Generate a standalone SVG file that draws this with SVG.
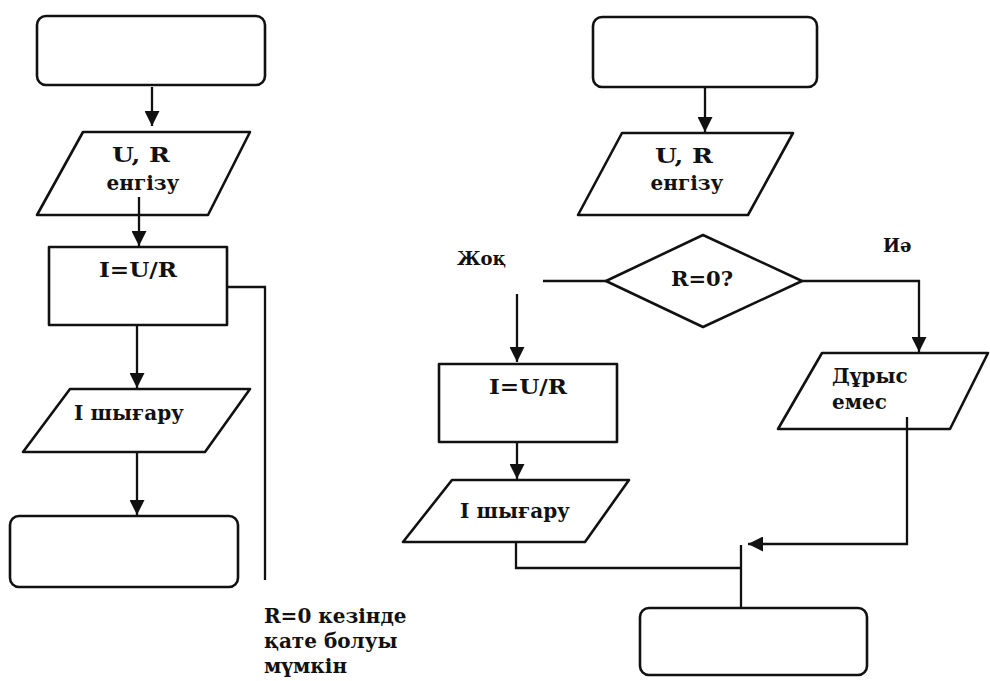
<svg xmlns="http://www.w3.org/2000/svg" width="990" height="681" viewBox="0 0 990 681">
<style>
.shape{fill:#fff;stroke:#111;stroke-width:2.6;stroke-linejoin:round}
.conn{fill:none;stroke:#111;stroke-width:2.3}
.t{font-family:"DejaVu Serif","Liberation Serif",serif;font-weight:bold;font-size:20px;fill:#111}
.c{text-anchor:middle}
</style>
<defs>
<marker id="arr" viewBox="0 0 15 15" refX="15" refY="7.5" markerWidth="15" markerHeight="15" markerUnits="userSpaceOnUse" orient="auto">
<path d="M0,0 L15,7.5 L0,15 Z" fill="#111"/>
</marker>
</defs>
<rect width="990" height="681" fill="#fff"/>

<g id="L-start"><rect class="shape" x="37" y="16" width="228" height="69" rx="9"/></g>
<g id="L-input"><polygon class="shape" points="83,132 250,132 208,215 37,215"/>
<text class="t c" x="141" y="162" textLength="58" lengthAdjust="spacingAndGlyphs">U, R</text><text class="t c" x="143" y="190">енгізу</text></g>
<g id="L-process"><rect class="shape" x="49" y="247" width="178" height="78"/>
<text class="t c" x="138" y="277" textLength="78" lengthAdjust="spacingAndGlyphs">I=U/R</text></g>
<g id="L-output"><polygon class="shape" points="70,389 250,389 205,452 23,452"/>
<text class="t c" x="129" y="420">I шығару</text></g>
<g id="L-end"><rect class="shape" x="10" y="516" width="228" height="71" rx="9"/></g>
<g id="L-note"><text class="t" x="264" y="623">R=0 кезінде</text><text class="t" x="264" y="648">қате болуы</text><text class="t" x="264" y="673">мүмкін</text></g>

<g id="R-start"><rect class="shape" x="593" y="17" width="224" height="70" rx="9"/></g>
<g id="R-input"><polygon class="shape" points="622,133 793,133 748,215 578,215"/>
<text class="t c" x="684" y="163" textLength="58" lengthAdjust="spacingAndGlyphs">U, R</text><text class="t c" x="687" y="190">енгізу</text></g>
<g id="R-decision"><polygon class="shape" points="606,281 703,235 802,281 703,327"/>
<text class="t c" x="702" y="286" textLength="62" lengthAdjust="spacingAndGlyphs">R=0?</text></g>
<g id="R-process"><rect class="shape" x="439" y="364" width="178" height="78"/>
<text class="t c" x="528" y="394" textLength="78" lengthAdjust="spacingAndGlyphs">I=U/R</text></g>
<g id="R-output"><polygon class="shape" points="452,480 629,480 585,542 403,542"/>
<text class="t c" x="515" y="518">I шығару</text></g>
<g id="R-error"><polygon class="shape" points="822,353 988,353 950,429 778,429"/>
<text class="t" x="832" y="383">Дұрыс</text><text class="t" x="832" y="409">емес</text></g>
<g id="R-end"><rect class="shape" x="640" y="608" width="227" height="67" rx="9"/></g>
<g id="label-no"><text class="t" x="457" y="265" style="font-size:18px">Жоқ</text></g>
<g id="label-yes"><text class="t" x="883" y="252" style="font-size:18px">Иә</text></g>

<g id="connectors">
<path class="conn" d="M152,87 V126" marker-end="url(#arr)"/>
<path class="conn" d="M139,197 V246" marker-end="url(#arr)"/>
<path class="conn" d="M137,325 V388" marker-end="url(#arr)"/>
<path class="conn" d="M137,452 V515" marker-end="url(#arr)"/>
<path class="conn" d="M227,287 H265 V580"/>
<path class="conn" d="M705,87 V132" marker-end="url(#arr)"/>
<path class="conn" d="M543,281 H606"/>
<path class="conn" d="M517,294 V362" marker-end="url(#arr)"/>
<path class="conn" d="M802,281 H919 V352" marker-end="url(#arr)"/>
<path class="conn" d="M517,442 V479" marker-end="url(#arr)"/>
<path class="conn" d="M516,542 V568 H741"/>
<path class="conn" d="M907,417 V544 H748" marker-end="url(#arr)"/>
<path class="conn" d="M741,545 V608"/>
</g>
</svg>
